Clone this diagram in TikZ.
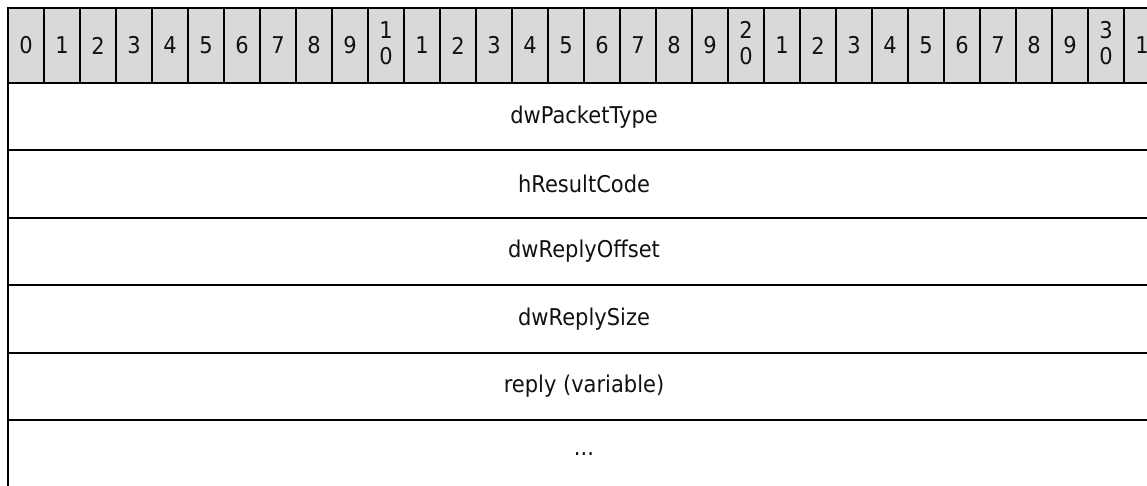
\documentclass[tikz,border=0pt]{standalone}
\usepackage{fontspec}
\setmainfont{DejaVu Sans}
\usepackage{graphicx}
\definecolor{hdrgray}{HTML}{D9D9D9}
\definecolor{txt}{HTML}{111111}
\newcommand{\vstretch}[1]{\scalebox{1}[1.1]{#1}}
\begin{document}
\begin{tikzpicture}[x=1pt,y=-1pt,
  bitcell/.style={draw=black, line width=2pt, fill=hdrgray, outer sep=0pt,
    inner sep=0pt, minimum width=36pt, minimum height=75pt, anchor=north west,
    font=\fontsize{21}{27}\selectfont, text=txt, align=center},
  fieldbox/.style={draw=black, line width=2pt, outer sep=0pt, inner sep=0pt,
    minimum width=1152pt, minimum height=67.4pt, anchor=north west,
    font=\fontsize{21}{27}\selectfont, text=txt},
  openbox/.style={fieldbox, draw=none, minimum height=90pt}
]
\useasboundingbox (0,0) rectangle (1147,485);
\clip (0,0) rectangle (1147,485);
% header of bit numbers
\foreach \i in {0,...,31}{
  \pgfmathtruncatemacro{\d}{mod(\i,10)}
  \pgfmathtruncatemacro{\t}{\i/10}
  \ifnum\d=0 \ifnum\i>0
    \node[bitcell] (b\i) at ({8+36*\i},8) {\vstretch{\begin{tabular}{@{}c@{}}\t\\[-4pt]0\end{tabular}}};
  \else
    \node[bitcell] (b\i) at ({8+36*\i},8) {\vstretch{\d}};
  \fi\else
    \node[bitcell] (b\i) at ({8+36*\i},8) {\vstretch{\d}};
  \fi
}
% fields
\node[fieldbox] (f1) at (8,83) {\vstretch{dwPacketType}};
\node[fieldbox] (f2) at (f1.south west) {\vstretch{hResultCode}};
\node[fieldbox] (f3) at (f2.south west) {\vstretch{dwReplyOffset}};
\node[fieldbox] (f4) at (f3.south west) {\vstretch{dwReplySize}};
\node[fieldbox] (f5) at (f4.south west) {\vstretch{reply (variable)}};
\node[openbox, minimum height=67.4pt] (f6) at (f5.south west) {\vstretch{...}};
\coordinate (f6end) at ([yshift=-40pt]f6.south west);
\draw[line width=2pt] (f6.north west) -- (f6end);
\end{tikzpicture}
\end{document}
